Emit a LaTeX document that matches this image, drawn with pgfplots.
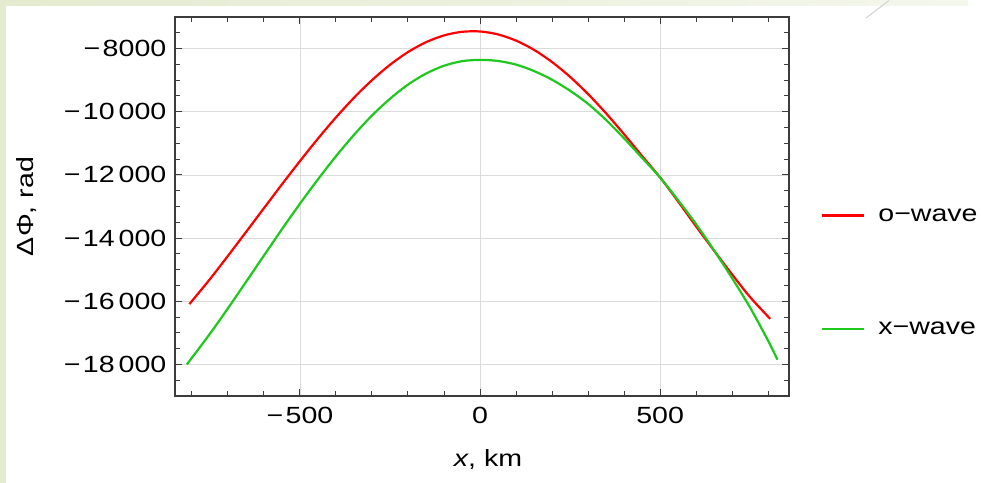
\documentclass[border=0pt]{standalone}
\usepackage{fontspec}
\setmainfont{Liberation Sans}[FakeStretch=1.22]
\usepackage{pgfplots}
\pgfplotsset{compat=1.18}
\definecolor{bggreen}{RGB}{228,235,208}
\definecolor{cgreen}{RGB}{30,200,30}
\definecolor{framegray}{RGB}{60,60,60}
\newcommand{\mn}{−\kern2.5bp}
\pgfplotstableread{
x y
-807 -16090
-750 -15299
-700 -14563
-650 -13811
-600 -13052
-550 -12298
-500 -11561
-450 -10850
-400 -10178
-350 -9557
-300 -8999
-250 -8514
-200 -8110
-150 -7798
-100 -7583
-50 -7469
0 -7458
50 -7552
100 -7747
150 -8041
200 -8426
250 -8895
300 -9440
350 -10050
400 -10712
450 -11400
500 -12080
550 -12840
600 -13630
650 -14400
700 -15150
750 -15870
806 -16560
}\owave
\pgfplotstableread{
x y
-814 -18000
-750 -17029
-700 -16223
-650 -15391
-600 -14552
-550 -13718
-500 -12911
-450 -12140
-400 -11408
-350 -10732
-300 -10119
-250 -9589
-200 -9140
-150 -8793
-100 -8543
-50 -8399
0 -8358
50 -8392
100 -8507
150 -8711
200 -8986
250 -9335
300 -9750
350 -10260
400 -10842
450 -11460
500 -12080
550 -12800
600 -13560
650 -14390
700 -15270
750 -16200
800 -17250
826 -17850
}\xwave
\begin{document}
\begin{tikzpicture}[font=\fontsize{23.5}{28}\selectfont]
\fill[white] (-175bp,-86.5bp) rectangle (806bp,395.5bp);
\fill[bggreen] (-175bp,-86.5bp) rectangle (-169bp,395.5bp);
\shade[left color=bggreen, right color=bggreen!40!white] (-169bp,390bp) rectangle (793bp,395.5bp);
\draw[gray!35, line width=1bp] (691bp,378bp) -- (714bp,395.5bp);
\begin{axis}[
  at={(0,0)}, anchor=south west,
  scale only axis, width=614bp, height=379bp,
  xmin=-847, xmax=858, ymin=-19000, ymax=-7000,
  scaled y ticks=false, scaled x ticks=false,
  xtick={-500,0,500}, xticklabels={\mn500,0,500},
  ytick={-18000,-16000,-14000,-12000,-10000,-8000},
  yticklabels={\mn18\,000,\mn16\,000,\mn14\,000,\mn12\,000,\mn10\,000,\mn8000},
  minor xtick={-800,-700,...,800},
  minor ytick={-18500,-18000,...,-7500},
  tick align=inside,
  major tick length=7.5bp, minor tick length=4.7bp,
  grid=major,
  major grid style={gray!28, line width=0.8bp},
  axis line style={framegray, line width=1.2bp},
  every tick/.style={framegray, line width=1bp},
  xticklabel style={inner sep=0pt, yshift=-11bp},
  yticklabel style={inner sep=0pt, xshift=-8.5bp},
  xlabel={\textit{x}, km},
  xlabel style={at={(axis description cs:0.5098,-0.1398)}, anchor=north, inner sep=0pt},
  ylabel={ΔΦ, rad},
  ylabel style={at={(axis description cs:-0.2256,0.5)}, anchor=south, inner sep=0pt},
  legend cell align=left,
  legend image code/.code={\draw[#1] (0bp,0bp) -- (42bp,0bp);},
  legend style={draw=none, fill=none, at={(axis description cs:1.0521,0.327)}, anchor=west,
    inner sep=0pt, row sep=99bp, nodes={inner sep=0pt},
    /tikz/every odd column/.append style={column sep=13bp}},
]
\addplot[red, line width=2.2bp, smooth] table {\owave};
\addlegendentry{o−wave}
\addplot[cgreen, line width=2.2bp, smooth] table {\xwave};
\addlegendentry{x−wave}
\end{axis}
\end{tikzpicture}
\end{document}
